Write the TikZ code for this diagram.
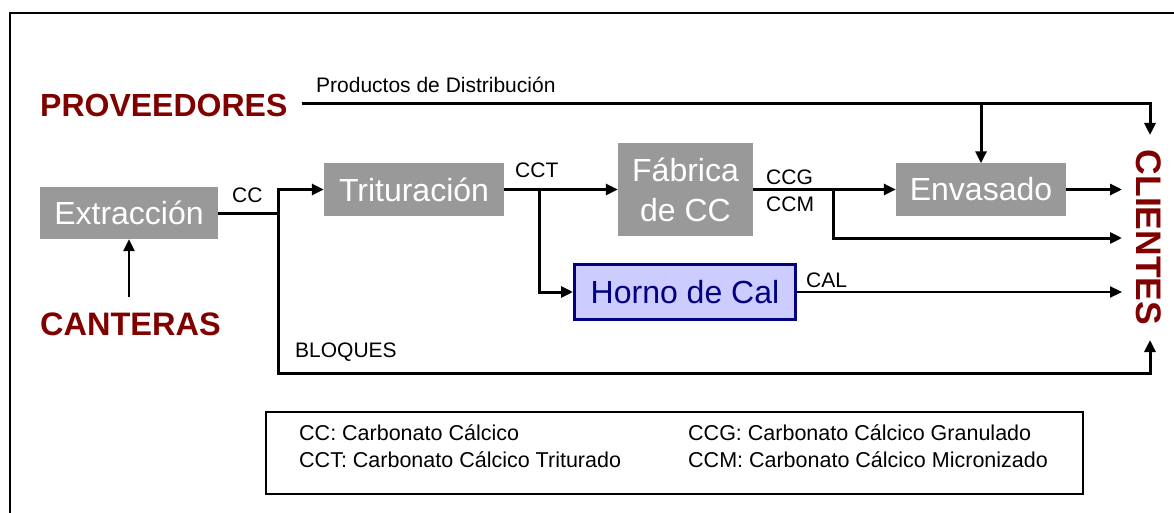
\documentclass[tikz,border=0pt]{standalone}
\usepackage{fontspec}
\setmainfont{Liberation Sans}
\usetikzlibrary{arrows.meta}
\definecolor{gris}{HTML}{999999}
\definecolor{rojo}{HTML}{800000}
\definecolor{lila}{HTML}{CCCCFF}
\definecolor{marino}{HTML}{000080}
\newcommand{\fs}[1]{\fontsize{#1}{#1}\selectfont}

\begin{document}
\begin{tikzpicture}[x=1pt, y=-1pt,
    proceso/.style={fill=gris, text=white, inner sep=0pt, font=\fs{32}},
    actor/.style={text=rojo, inner sep=0pt, font=\bfseries\fs{32}},
    etiqueta/.style={inner sep=0pt, anchor=base west, font=\fs{21}},
    flujo/.style={line width=3pt, -{Triangle[length=12pt,width=11pt]}},
    linea/.style={line width=3pt}]
    \useasboundingbox (0,0) rectangle (1174,513);
    \draw[line width=2pt] (10,520) -- (10,13) -- (1180,13);

    % procesos
    \node[proceso, minimum width=178pt, minimum height=52pt] (extr) at (129,213) {Extracción};
    \node[proceso, minimum width=180pt, minimum height=53pt] (trit) at (414,189.5) {Trituración};
    \node[proceso, minimum width=135pt, minimum height=92pt, align=center,
        font=\fontsize{32}{40}\selectfont] (fab) at (685.5,189.5) {Fábrica\\de CC};
    \node[proceso, minimum width=170pt, minimum height=52pt] (env) at (981,189.5) {Envasado};
    \node[draw=marino, line width=3pt, fill=lila, text=marino, inner sep=0pt,
        minimum width=221pt, minimum height=55pt, font=\fs{32}] (horno) at (685,292) {Horno de Cal};

    % actores
    \node[actor, anchor=base west] (prov) at (40,117) {PROVEEDORES};
    \node[actor, anchor=base west, font=\bfseries\fs{32.5}] (cant) at (40,335) {CANTERAS};
    \node[actor, rotate=-90, font=\bfseries\fs{35.5}] (cli) at (1149,237.5) {CLIENTES};

    \coordinate (jcc) at (278,213);
    \coordinate (bloq) at (278,373);
    \coordinate (jcct) at (539,189.5);
    \coordinate (jccg) at (833,189.5);
    \coordinate (jenv) at (981,104);
    \coordinate (cant-out) at (129,297);
    \coordinate (cliP) at (1150,135);
    \coordinate (cliE) at (1122,189.5);
    \coordinate (cliG) at (1122,238);
    \coordinate (cliH) at (1122,292);
    \coordinate (cliB) at (1150,340);

    \draw[line width=2.5pt, -{Triangle[length=12pt,width=11pt]}] (cant-out) -- (extr.south);
    \draw[linea] (extr.east) -- (jcc);
    \draw[flujo] (jcc) |- (trit.west);
    \draw[flujo] (jcc) -- (bloq) -| (cliB);
    \draw[flujo] (trit) -- (fab);
    \draw[flujo] (jcct) |- (horno.west);
    \draw[flujo] (fab) -- (env);
    \draw[flujo] (jccg) |- (cliG);
    \draw[flujo] (env) -- (cliE);
    \draw[line width=2.2pt, -{Triangle[length=12pt,width=11pt]}] (horno) -- (cliH);
    \draw[flujo] ([xshift=14pt,yshift=2pt]prov.east) -| (cliP);
    \draw[flujo] (jenv) -- (env.north);

    % etiquetas
    \node[etiqueta] (lprod) at (316,93) {Productos de Distribución};
    \node[etiqueta] (lcc) at (232,202) {CC};
    \node[etiqueta] (lcct) at (515,178) {CCT};
    \node[etiqueta] (lccg) at (766,185) {CCG};
    \node[etiqueta] (lccm) at (766,211) {CCM};
    \node[etiqueta] (lcal) at (806,287) {CAL};
    \node[etiqueta] (lbloq) at (295,357) {BLOQUES};

    % leyenda
    \draw[line width=1.8pt] (266,412) rectangle (1083,494);
    \node[etiqueta, font=\fs{21.5}] (ley1) at (299,440) {CC: Carbonato Cálcico};
    \node[etiqueta, font=\fs{21.5}] (ley2) at (299,467) {CCT: Carbonato Cálcico Triturado};
    \node[etiqueta, font=\fs{21.5}] (ley3) at (688,440) {CCG: Carbonato Cálcico Granulado};
    \node[etiqueta, font=\fs{21.5}] (ley4) at (688,467) {CCM: Carbonato Cálcico Micronizado};
\end{tikzpicture}
\end{document}
